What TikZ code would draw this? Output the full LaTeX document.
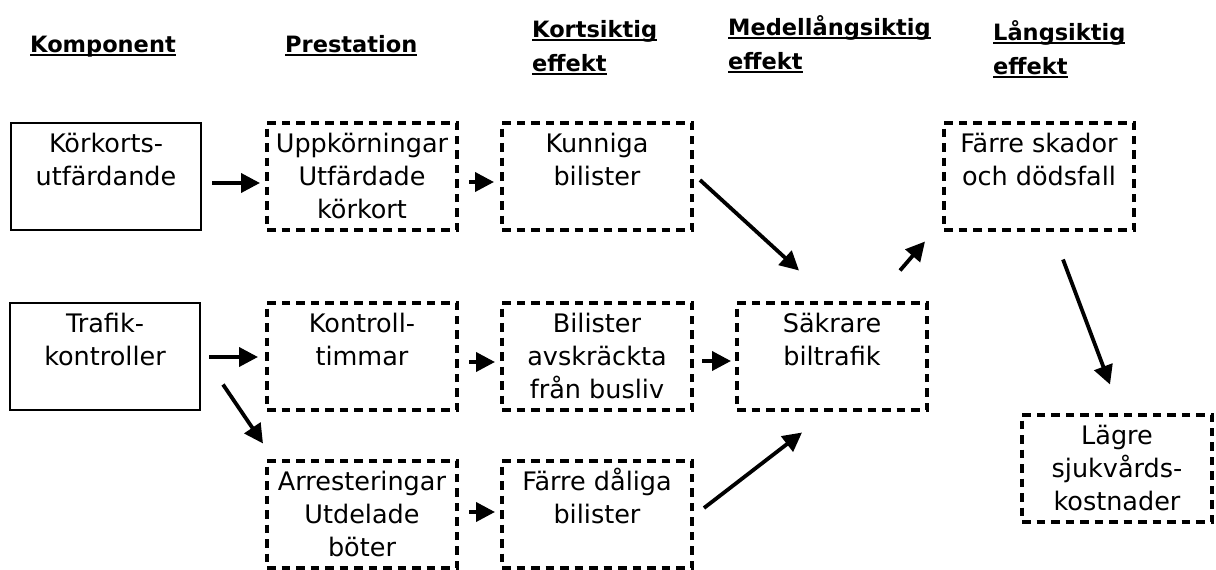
\documentclass[tikz,border=0pt]{standalone}
\usepackage{fontspec}
\setmainfont{DejaVu Sans}
\usetikzlibrary{arrows.meta}

% underlined header word, box text set from the top of the box
\newcommand{\hul}[1]{\setbox0\hbox{#1}\rlap{\rule[-3.6pt]{\wd0}{2pt}}\box0}
\newcommand{\boxtxt}[1]{\parbox[t][107pt][t]{188pt}{\centering\rule{0pt}{30pt}#1}}

\begin{document}
\begin{tikzpicture}[x=1pt, y=-1pt,
    every node/.style={inner sep=0pt},
    hdr/.style={anchor=base west, align=left, font=\fontsize{22.5}{34}\selectfont\bfseries},
    solidbox/.style={draw, line width=2pt, minimum width=190pt, minimum height=107pt,
                     font=\fontsize{25.5}{33}\selectfont},
    dashbox/.style={solidbox, line width=4pt, dash pattern=on 8.5pt off 6pt},
    arr/.style={line width=3.8pt, -{Triangle[length=19pt,width=19pt]}}]

  \useasboundingbox (0,0) rectangle (1216,570);
  \fill[white] (0,0) rectangle (1216,570);

  % Headers:
  \node[hdr] (komponent)  at ( 30,52) {\hul{Komponent}};
  \node[hdr] (prestation) at (285,52) {\hul{Prestation}};
  \node[hdr] (kortsiktig) at (532,71) {\hul{Kortsiktig}\\\hul{effekt}};
  \node[hdr] (medel)      at (728,69) {\hul{Medellångsiktig}\\\hul{effekt}};
  \node[hdr] (lang)       at (993,74) {\hul{Långsiktig}\\\hul{effekt}};

  % Components:
  \node[solidbox] (korkort) at (106,176) {\boxtxt{Körkorts-\\utfärdande}};
  \node[solidbox] (trafik)  at (105,356) {\boxtxt{Trafik-\\kontroller}};

  % Outputs and effects:
  \node[dashbox] (uppk)     at ( 362,176) {\boxtxt{Uppkörningar\\Utfärdade\\körkort}};
  \node[dashbox] (kunniga)  at ( 597,176) {\boxtxt{Kunniga\\bilister}};
  \node[dashbox] (skador)   at (1039,176) {\boxtxt{Färre skador\\och dödsfall}};
  \node[dashbox] (kontroll) at ( 362,356) {\boxtxt{Kontroll-\\timmar}};
  \node[dashbox] (bilister) at ( 597,356) {\boxtxt{Bilister\\avskräckta\\från busliv}};
  \node[dashbox] (sakrare)  at ( 832,356) {\boxtxt{Säkrare\\biltrafik}};
  \node[dashbox] (arrest)   at ( 362,514) {\boxtxt{Arresteringar\\Utdelade\\böter}};
  \node[dashbox] (daliga)   at ( 597,514) {\boxtxt{Färre dåliga\\bilister}};
  \node[dashbox] (lagre)    at (1117,468) {\boxtxt{Lägre\\sjukvårds-\\kostnader}};

  % Arrows:
  \draw[arr] ([shift={(10,7)}]korkort.east)  -- ([shift={(-5,7)}]uppk.west);
  \draw[arr] ([shift={(10,6)}]uppk.east)     -- ([shift={(-6,6)}]kunniga.west);
  \draw[arr] ([shift={(6,4)}]kunniga.east)   -- ([shift={(-33,-30)}]sakrare.north);
  \draw[arr] ([shift={(68,-30)}]sakrare.north) -- ([shift={(-17,10)}]skador.south west);
  \draw[arr] ([shift={(24,28)}]skador.south) -- ([shift={(-7,-28)}]lagre.north);
  \draw[arr] ([shift={(8,1)}]trafik.east)    -- ([shift={(-7,1)}]kontroll.west);
  \draw[arr] ([shift={(22,-26)}]trafik.south east) -- ([shift={(-2,-15)}]arrest.north west);
  \draw[arr] ([shift={(10,6)}]kontroll.east) -- ([shift={(-5,6)}]bilister.west);
  \draw[arr] ([shift={(10,-2)}]arrest.east)  -- ([shift={(-5,-2)}]daliga.west);
  \draw[arr] ([shift={(8,5)}]bilister.east)  -- ([shift={(-4,5)}]sakrare.west);
  \draw[arr] ([shift={(10,-6)}]daliga.east)  -- ([shift={(-30,21)}]sakrare.south);

\end{tikzpicture}
\end{document}
